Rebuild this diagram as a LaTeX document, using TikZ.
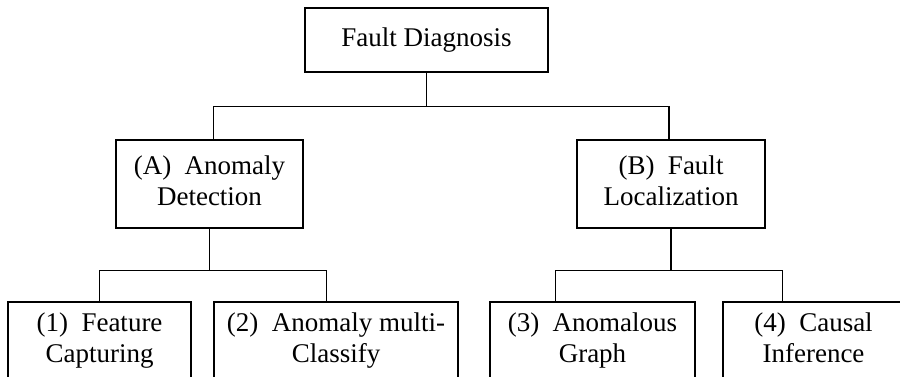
\documentclass[tikz,border=0pt]{standalone}
\usepackage{fontspec}
\setmainfont{Liberation Serif}
\usetikzlibrary{calc}

\tikzset{
		diag/.style={
			x=1pt,y=-1pt,
			line width=1.3pt,
			every node/.style={draw,inner sep=0pt,align=center,
				font=\fontsize{27}{31}\selectfont}
		},
		treebox/.style={minimum height=#1},
		treebox/.default=88pt,
		treeline/.style={draw,line width=1.3pt,line cap=rect}
	}

\begin{document}
\begin{tikzpicture}[diag]
				\useasboundingbox (0,0) rectangle (900,377);
				\clip (0,0) rectangle (900,377);
				% levels
				\node[treebox=64pt,minimum width=243pt] (root) at (426.5,40) {Fault Diagnosis};
				\node[treebox,minimum width=187pt] (detect) at (209.5,184) {(A)~ Anomaly\strut\\Detection\strut};
				\node[treebox,minimum width=188pt] (locate) at (671,184) {(B)~ Fault\strut\\Localization\strut};
				\node[treebox=77pt,minimum width=183pt] (feature) at (99.5,340.5) {(1)~ Feature\strut\\Capturing\strut};
				\node[treebox=77pt,minimum width=244pt] (classify) at (336,340.5) {(2)~ Anomaly multi-\strut\\Classify\strut};
				\node[treebox=77pt,minimum width=205pt] (graph) at (592.5,340.5) {(3)~ Anomalous\strut\\Graph\strut};
				\node[treebox=77pt,minimum width=181pt] (causal) at (813.5,340.5) {(4)~ Causal\strut\\Inference\strut};
				% connectors
				\draw[treeline] (root.south) -- ++(0,34);
				\draw[treeline] ($(detect.north west)!.52!(detect.north east)$) |- ($(root.south)+(0,34)$)
					-| ($(locate.north west)!.49!(locate.north east)$);
				\draw[treeline] (detect.south) -- ++(0,42);
				\draw[treeline] (feature.north) |- ($(detect.south)+(0,42)$)
					-| ($(classify.north west)!.46!(classify.north east)$);
				\draw[treeline] (locate.south) -- ++(0,42);
				\draw[treeline] ($(graph.north west)!.32!(graph.north east)$) |- ($(locate.south)+(0,42)$)
					-| ($(causal.north west)!.33!(causal.north east)$);
			\end{tikzpicture}
\end{document}
